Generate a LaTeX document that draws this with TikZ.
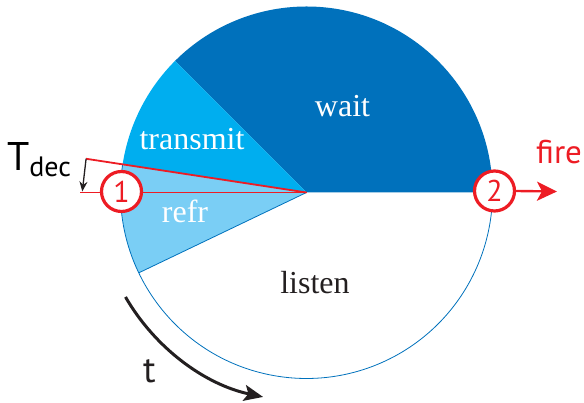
\documentclass[tikz,border=0pt]{standalone}
\usepackage{fontspec}
\setmainfont{Liberation Serif}
\newfontfamily\lblsans{PT Sans}
\usetikzlibrary{arrows.meta,calc}
\definecolor{waitc}{RGB}{0,113,188}
\definecolor{transc}{RGB}{0,174,239}
\definecolor{refrc}{RGB}{122,206,245}
\definecolor{firered}{RGB}{237,28,36}
\definecolor{inkc}{RGB}{35,31,32}
\tikzset{
  sectorlabel/.style={anchor=base,font=\fontsize{32}{32}\selectfont,inner sep=0},
  sanslabel/.style={anchor=base west,inner sep=0,font=\lblsans},
  marker/.style={circle,draw=firered,line width=3.2,fill=white,minimum size=40,inner sep=0,
    text=firered,font=\lblsans\fontsize{30}{30}\selectfont},
  redline/.style={draw=firered,line width=1.8},
}
\begin{document}
\begin{tikzpicture}[x=1pt,y=1pt]
\useasboundingbox (0,0) rectangle (584,403);
\coordinate (O) at (306.5,210.5);
% sectors
\fill[waitc] (O) -- ++(0:186) arc[start angle=0,end angle=135,radius=186] -- cycle;
\fill[transc] (O) -- ++(135:186) arc[start angle=135,end angle=171.3,radius=186] -- cycle;
\fill[refrc] (O) -- ++(171.3:186) arc[start angle=171.3,end angle=205.6,radius=186] -- cycle;
\draw[waitc,line width=0.8] ($(O)+(171.3:186)$) arc[start angle=171.3,end angle=360,radius=186];
\draw[waitc,line width=0.8] (O) -- ++(205.6:186);
% labels
\node[sectorlabel,text=white] (wait) at (342.5,286) {wait};
\node[sectorlabel,text=white] (transmit) at (192,253) {transmit};
\node[sectorlabel,text=white] (refr) at (185,180.5) {refr};
\node[sectorlabel,text=inkc] (listen) at (315,109.7) {listen};
% red lines
\coordinate (tdectop) at ($(O)+(171.3:223)$);
\coordinate (hleft) at (80,210.5);
\draw[redline] (O) -- (tdectop);
\draw[redline] (O) -- (hleft);
\draw[inkc,line width=1.3,-{Stealth[length=10,width=8]}] (tdectop) -- (82.3,211.5);
% markers
\node[marker] (m1) at (121.5,211.5) {1};
\node[marker] (m2) at (494.5,212) {2};
\coordinate (firetip) at (557,211.5);
\draw[firered,line width=2.4,-{Stealth[length=20,width=19,inset=5]}] (m2.east) -- (firetip);
% texts
\node[sanslabel,text=firered,font=\lblsans\fontsize{33}{33}\selectfont] (fire) at (536,239.7) {fire};
\node[sanslabel,text=black] (tdec) at (7,232) {\fontsize{40}{40}\selectfont T\raisebox{-5.7pt}{\fontsize{28}{28}\selectfont dec}};
% time arrow
\draw[inkc,line width=3,-{Stealth[length=19,width=16,inset=4]}] ($(O)+(210:209)$) arc[start angle=210,end angle=258,radius=209];
\node[sanslabel,text=inkc,font=\lblsans\fontsize{37}{37}\selectfont] (t) at (143,20.3) {t};
\end{tikzpicture}
\end{document}
